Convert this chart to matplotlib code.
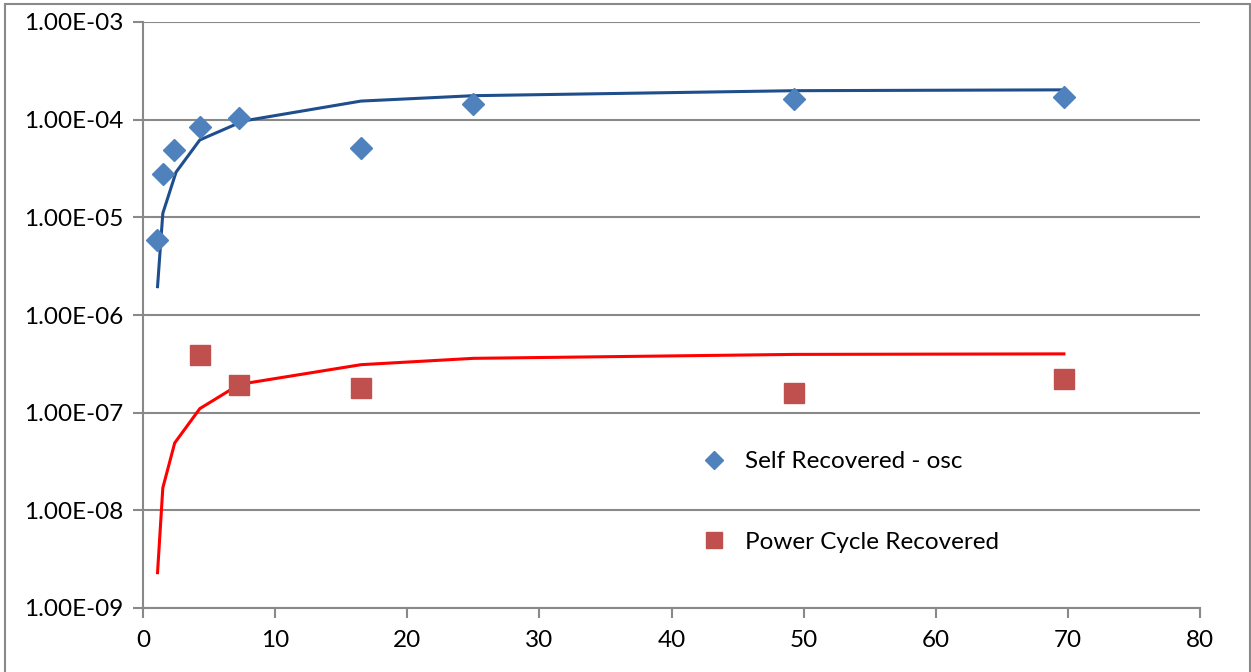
import numpy as np
import matplotlib.pyplot as plt
from matplotlib.ticker import FuncFormatter, FixedLocator
from matplotlib.patches import Rectangle

# self recovered (osc) measurements + fitted curve
self_x = [1.06, 1.5, 2.35, 4.3, 7.27, 16.5, 25.0, 49.3, 69.7]
self_y = [5.9e-6, 2.8e-5, 4.9e-5, 8.4e-5, 1.04e-4, 5.1e-5, 1.45e-4, 1.62e-4, 1.7e-4]
self_fit_x = [1.1, 1.5, 2.5, 4.3, 7.6, 16.5, 25.0, 49.3, 69.7]
self_fit_y = [1.95e-6, 1.1e-5, 2.9e-5, 6.2e-5, 9.7e-5, 1.55e-4, 1.76e-4, 1.98e-4, 2.02e-4]

# power cycle recovered measurements + fitted curve
pc_x = [4.3, 7.27, 16.5, 49.3, 69.7]
pc_y = [3.9e-7, 1.93e-7, 1.8e-7, 1.59e-7, 2.2e-7]
pc_fit_x = [1.1, 1.5, 2.4, 4.3, 7.3, 16.5, 25.0, 49.3, 69.7]
pc_fit_y = [2.3e-9, 1.7e-8, 4.9e-8, 1.1e-7, 1.95e-7, 3.1e-7, 3.6e-7, 3.95e-7, 4.0e-7]

x_ticks = [0, 10, 20, 30, 40, 50, 60, 70, 80]
y_ticks = [1e-9, 1e-8, 1e-7, 1e-6, 1e-5, 1e-4, 1e-3]

plt.rcParams['font.family'] = ['Lato', 'DejaVu Sans']
grey = '#898989'

fig = plt.figure(figsize=(12.51, 6.72), dpi=100)
ax = fig.add_axes([143 / 1251, 1 - 608 / 672, (1200 - 143) / 1251, (608 - 22) / 672])

ax.plot(self_fit_x, self_fit_y, color='#1F4E8C', lw=2.2, zorder=3)
ax.plot(pc_fit_x, pc_fit_y, color='#FF0000', lw=2.2, zorder=3)
ax.plot(self_x, self_y, 'D', color='#4F81BD', ms=11, ls='none',
        label='Self Recovered - osc', zorder=4)
ax.plot(pc_x, pc_y, 's', color='#C0504D', ms=14, ls='none',
        label='Power Cycle Recovered', zorder=4)

ax.set_yscale('log')
ax.set_xlim(0, 80)
ax.set_ylim(1e-9, 1e-3)
ax.xaxis.set_major_locator(FixedLocator(x_ticks))
ax.yaxis.set_major_locator(FixedLocator(y_ticks))
ax.yaxis.set_minor_locator(FixedLocator([]))
ax.yaxis.set_major_formatter(FuncFormatter(lambda v, p: f"{v:.2E}"))

ax.grid(axis='y', color=grey, lw=1.5)
ax.set_axisbelow(True)
for s in ['top', 'right']:
    ax.spines[s].set_visible(False)
for s in ['left', 'bottom']:
    ax.spines[s].set_color(grey)
    ax.spines[s].set_linewidth(1.5)
ax.tick_params(axis='both', colors=grey, width=1.5, length=7, labelsize=17.5,
               labelcolor='black')
ax.tick_params(axis='y', pad=7)
ax.tick_params(axis='x', pad=9)

ax.legend(loc='upper left', bbox_to_anchor=(0.5043, 0.3046), frameon=False,
          fontsize=17.5, labelspacing=2.45, handletextpad=0.65, handlelength=1.3,
          markerscale=0.85)

fig.patches.append(Rectangle((5 / 1251, -0.01), (1250 - 5) / 1251, 1.01 - 4 / 672,
                             transform=fig.transFigure, fill=False,
                             edgecolor=grey, lw=1.5))

fig.savefig('out.png', dpi=100)
